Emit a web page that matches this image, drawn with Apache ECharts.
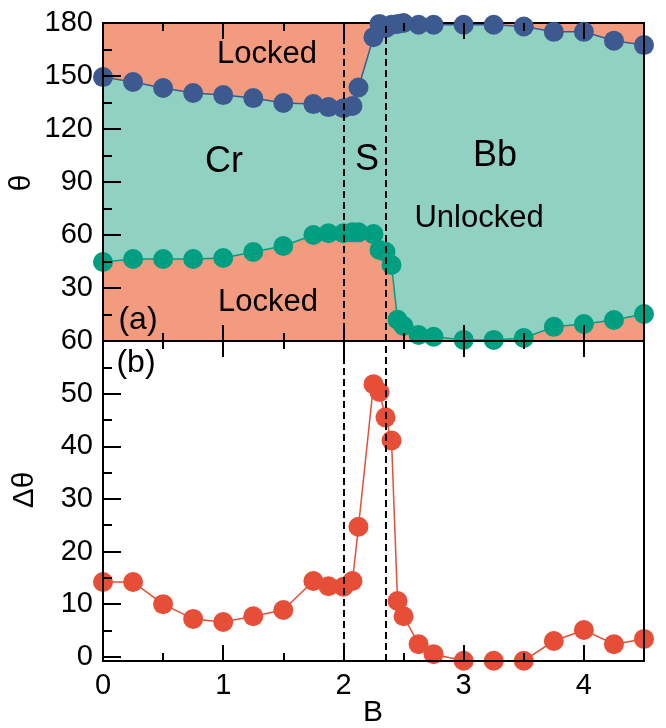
<!DOCTYPE html>
<html>
<head>
<meta charset="utf-8">
<script src="https://cdn.jsdelivr.net/npm/echarts@6/dist/echarts.min.js"></script>
<style>
  html, body { margin: 0; padding: 0; background: #fff; }
  #chart { width: 666px; height: 728px; }
</style>
</head>
<body>
<div id="chart"></div>
<script>
// Field values B
const B = [0, 0.25, 0.5, 0.75, 1, 1.25, 1.5, 1.75, 1.875, 2.0, 2.075, 2.125, 2.25, 2.3, 2.35,
           2.4, 2.45, 2.5, 2.625, 2.75, 3, 3.25, 3.5, 3.75, 4, 4.25, 4.5];
// Upper locking angle (degrees)
const thetaUpper = [149.4, 146.6, 143.2, 140.4, 139.2, 137.5, 134.7, 134.1, 132.4, 131.8, 133, 143.5, 172, 179.5, 177,
                    179, 179.5, 180, 179, 179, 179, 179, 178, 175, 175, 170, 167.5];
// Lower locking angle (degrees)
const thetaLower = [44.7, 46.4, 46.4, 46.4, 47, 50.4, 53.8, 60, 61, 61, 61.5, 61.5, 60.5, 51.5, 50.5,
                    43, 12, 8.5, 3.4, 2.4, 0.6, 0.6, 1.7, 8, 9.6, 11.9, 15.3];
// Width of the unlocked window
const deltaTheta = [14.2, 14.2, 10.0, 7.2, 6.6, 7.7, 8.9, 14.4, 13.4, 13.3, 14.4, 24.7, 51.8, 50.3, 45.5,
                    41.1, 10.6, 7.7, 2.4, 0.5, -0.75, -0.75, -0.75, 3.0, 5.1, 2.4, 3.4];
// Regime boundaries (Cr | S | Bb)
const boundaries = [2.0, 2.35];

// Tick values
const xMajor = [0, 1, 2, 3, 4];
const xMinor = [0.5, 1.5, 2.5, 3.5];
const dMajor = [0, 10, 20, 30, 40, 50, 60];
const dMinor = [5, 15, 25, 35, 45, 55];

const FONT = '"Liberation Sans", Arial, Helvetica, sans-serif';
const SALMON = '#F29B7F';
const TEAL = '#90D1C1';
const BLUE = '#3D5A90';
const GREEN = '#009F82';
const RED = '#E64E38';

const pairs = ys => B.map((b, i) => [b, ys[i]]);

function xAxisDef(gridIndex, position, ticks, len, withLine, withLabels) {
  return {
    type: 'value', gridIndex, position, min: 0, max: 4.5, z: 6,
    axisLine: { show: withLine, onZero: false, lineStyle: { color: '#000', width: 2 } },
    axisTick: { show: true, inside: true, length: len, customValues: ticks,
                lineStyle: { color: '#000', width: 2 } },
    axisLabel: withLabels
      ? { show: true, customValues: ticks, margin: 10, fontSize: 29, color: '#000', fontFamily: FONT }
      : { show: false },
    splitLine: { show: false }
  };
}

const chart = echarts.init(document.getElementById('chart'), null, { renderer: 'canvas' });

const option = {
  animation: false,
  backgroundColor: '#fff',
  grid: [
    { left: 103, top: 23, width: 541, height: 318, show: true, backgroundColor: SALMON,
      borderColor: '#000', borderWidth: 2 },
    { left: 103, top: 341, width: 541, height: 320, show: true, backgroundColor: '#fff',
      borderColor: '#000', borderWidth: 2 }
  ],
  xAxis: [
    xAxisDef(0, 'bottom', xMajor, 16, true, false),
    xAxisDef(0, 'bottom', xMinor, 8, false, false),
    xAxisDef(0, 'top', xMajor, 16, false, false),
    xAxisDef(0, 'top', xMinor, 8, false, false),
    xAxisDef(1, 'top', xMajor, 16, false, false),
    xAxisDef(1, 'top', xMinor, 8, false, false),
    xAxisDef(1, 'bottom', xMajor, 16, true, true),
    xAxisDef(1, 'bottom', xMinor, 8, false, false)
  ],
  yAxis: [
    { type: 'value', gridIndex: 0, position: 'left', min: 0, max: 180, interval: 30, z: 6,
      axisLine: { show: true, onZero: false, lineStyle: { color: '#000', width: 2 } },
      axisTick: { inside: true, length: 18, lineStyle: { color: '#000', width: 2 } },
      minorTick: { show: true, splitNumber: 2, length: 9, lineStyle: { color: '#000', width: 2 } },
      axisLabel: { showMinLabel: false, margin: 10, fontSize: 29, color: '#000', fontFamily: FONT },
      splitLine: { show: false }, minorSplitLine: { show: false } },
    { type: 'value', gridIndex: 0, position: 'right', min: 0, max: 180, z: 6,
      axisLine: { show: true, onZero: false, lineStyle: { color: '#000', width: 2 } },
      axisTick: { show: false }, axisLabel: { show: false }, splitLine: { show: false } },
    { type: 'value', gridIndex: 1, position: 'left', min: -0.8, max: 60, z: 6,
      axisLine: { show: true, onZero: false, lineStyle: { color: '#000', width: 2 } },
      axisTick: { inside: true, length: 18, customValues: dMajor, lineStyle: { color: '#000', width: 2 } },
      axisLabel: { customValues: dMajor, margin: 10, fontSize: 29, color: '#000', fontFamily: FONT },
      splitLine: { show: false } },
    { type: 'value', gridIndex: 1, position: 'left', min: -0.8, max: 60, z: 6,
      axisLine: { show: false, onZero: false },
      axisTick: { inside: true, length: 9, customValues: dMinor, lineStyle: { color: '#000', width: 2 } },
      axisLabel: { show: false }, splitLine: { show: false } },
    { type: 'value', gridIndex: 1, position: 'right', min: -0.8, max: 60, z: 6,
      axisLine: { show: true, onZero: false, lineStyle: { color: '#000', width: 2 } },
      axisTick: { show: false }, axisLabel: { show: false }, splitLine: { show: false } }
  ],
  series: [
    // unlocked band: fill under the upper curve, then re-cover below the lower curve
    { type: 'line', xAxisIndex: 0, yAxisIndex: 0, data: pairs(thetaUpper), showSymbol: false,
      lineStyle: { width: 0 }, areaStyle: { color: TEAL, opacity: 1 }, silent: true, z: 1 },
    { type: 'line', xAxisIndex: 0, yAxisIndex: 0, data: pairs(thetaLower), showSymbol: false,
      lineStyle: { width: 0 }, areaStyle: { color: SALMON, opacity: 1 }, silent: true, z: 1 },
    { type: 'line', xAxisIndex: 0, yAxisIndex: 0, data: pairs(thetaUpper), symbol: 'circle',
      symbolSize: 20, clip: false, z: 3,
      lineStyle: { color: BLUE, width: 1.5 }, itemStyle: { color: BLUE },
      markLine: { silent: true, symbol: 'none', label: { show: false },
        lineStyle: { color: '#000', width: 2, type: [7, 4] },
        data: boundaries.map(b => ({ xAxis: b })) } },
    { type: 'line', xAxisIndex: 0, yAxisIndex: 0, data: pairs(thetaLower), symbol: 'circle',
      symbolSize: 20, clip: false, z: 3,
      lineStyle: { color: GREEN, width: 1.5 }, itemStyle: { color: GREEN } },
    { type: 'line', xAxisIndex: 4, yAxisIndex: 2, data: pairs(deltaTheta), symbol: 'circle',
      symbolSize: 20, clip: false, z: 3,
      lineStyle: { color: RED, width: 1.5 }, itemStyle: { color: RED },
      markLine: { silent: true, symbol: 'none', label: { show: false },
        lineStyle: { color: '#000', width: 2, type: [7, 4] },
        data: boundaries.map(b => ({ xAxis: b })) } }
  ],
  graphic: [
    { type: 'text', x: 267, y: 54, z: 20, style: { text: 'Locked', font: '31px ' + FONT, fill: '#000', align: 'center', verticalAlign: 'middle' } },
    { type: 'text', x: 224, y: 162, z: 20, style: { text: 'Cr', font: '36px ' + FONT, fill: '#000', align: 'center', verticalAlign: 'middle' } },
    { type: 'text', x: 367, y: 160, z: 20, style: { text: 'S', font: '36px ' + FONT, fill: '#000', align: 'center', verticalAlign: 'middle' } },
    { type: 'text', x: 495, y: 156, z: 20, style: { text: 'Bb', font: '36px ' + FONT, fill: '#000', align: 'center', verticalAlign: 'middle' } },
    { type: 'text', x: 479, y: 218, z: 20, style: { text: 'Unlocked', font: '31px ' + FONT, fill: '#000', align: 'center', verticalAlign: 'middle' } },
    { type: 'text', x: 268, y: 302, z: 20, style: { text: 'Locked', font: '31px ' + FONT, fill: '#000', align: 'center', verticalAlign: 'middle' } },
    { type: 'text', x: 138, y: 320, z: 20, style: { text: '(a)', font: '32px ' + FONT, fill: '#000', align: 'center', verticalAlign: 'middle' } },
    { type: 'text', x: 136, y: 363, z: 20, style: { text: '(b)', font: '32px ' + FONT, fill: '#000', align: 'center', verticalAlign: 'middle' } },
    { type: 'text', x: 22, y: 183, rotation: Math.PI / 2, z: 20, style: { text: 'θ', font: '30px ' + FONT, fill: '#000', align: 'center', verticalAlign: 'middle' } },
    { type: 'text', x: 25, y: 490, rotation: Math.PI / 2, z: 20, style: { text: 'Δθ', font: '30px ' + FONT, fill: '#000', align: 'center', verticalAlign: 'middle' } },
    { type: 'text', x: 373, y: 713, z: 20, style: { text: 'B', font: '30px ' + FONT, fill: '#000', align: 'center', verticalAlign: 'middle' } }
  ]
};

chart.setOption(option);
</script>
</body>
</html>
